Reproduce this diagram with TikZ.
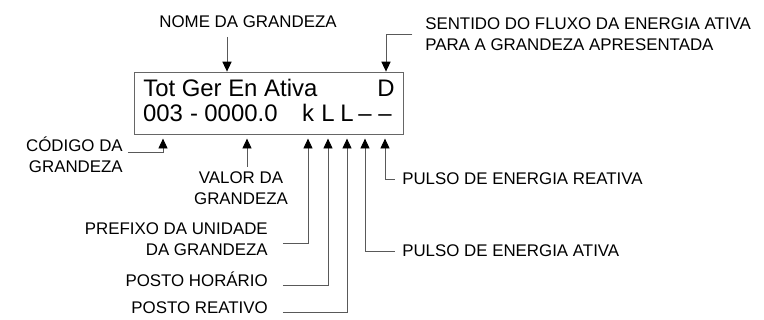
\documentclass[tikz,border=0pt]{standalone}
\usepackage{fontspec}
\setmainfont{Liberation Sans}
\usetikzlibrary{arrows.meta, positioning}
\tikzstyle{visor} = [rectangle, draw=black!60, line width=0.6pt, minimum width=6.725cm, minimum height=1.55cm, inner sep=0pt]
\tikzstyle{lcd} = [inner sep=0pt, font=\fontsize{17}{20}\selectfont]
\tikzstyle{rotulo} = [inner sep=0pt, font=\fontsize{12}{15}\selectfont]
\tikzstyle{seta} = [draw=black!65, line width=0.6pt, -{Triangle[length=7pt,width=6.5pt,color=black]}]
\tikzstyle{ligacao} = [seta, shorten >=3pt]

\begin{document}
\begin{tikzpicture}[x=0.025cm, y=-0.025cm]
  \useasboundingbox (0,0) rectangle (764,320);

  % visor
  \node[visor] (visor) at (268.5,103) {};
  \node[lcd, anchor=base west] (nome) at (143,97) {Tot Ger En Ativa};
  \node[lcd, anchor=base] (sentido) at (386,97) {D};
  \node[lcd, anchor=base] (codigo) at (163,122) {003};
  \node[lcd, anchor=base] (hifen) at (194,122) {-};
  \node[lcd, anchor=base] (valor) at (241,122) {0000.0};
  \node[lcd, anchor=base] (prefixo) at (308,122) {k};
  \node[lcd, anchor=base] (postoh) at (328,122) {L};
  \node[lcd, anchor=base] (postor) at (347,122) {L};
  \node[lcd, anchor=base] (pulsoa) at (365,122) {--};
  \node[lcd, anchor=base] (pulsor) at (385,122) {--};

  % rotulos (base = ultima linha)
  \node[rotulo, anchor=base] (lnome) at (248,28) {NOME DA GRANDEZA};
  \node[rotulo, anchor=base west, align=left] (lsentido) at (425,51) {SENTIDO DO FLUXO DA ENERGIA ATIVA\\PARA A GRANDEZA APRESENTADA};
  \node[rotulo, anchor=base east, align=right] (lcodigo) at (123,173) {CÓDIGO DA\\GRANDEZA};
  \node[rotulo, anchor=base, align=center] (lvalor) at (241,205) {VALOR DA\\GRANDEZA};
  \node[rotulo, anchor=base east, align=right] (lprefixo) at (268,256) {PREFIXO DA UNIDADE\\DA GRANDEZA};
  \node[rotulo, anchor=base east] (lpostoh) at (268,287) {POSTO HORÁRIO};
  \node[rotulo, anchor=base east] (lpostor) at (268,314) {POSTO REATIVO};
  \node[rotulo, anchor=base west] (lpulsor) at (402,185) {PULSO DE ENERGIA REATIVA};
  \node[rotulo, anchor=base west] (lpulsoa) at (402,257) {PULSO DE ENERGIA ATIVA};

  \coordinate (pnome) at (227,37);
  \coordinate (pvalor) at (247,167);

  \draw[seta] (pnome) -- (pnome |- visor.north);
  \draw[seta] ([xshift=-9pt]lsentido.west) -| (sentido |- visor.north);
  \draw[ligacao] ([xshift=3.5pt,yshift=2pt]lcodigo.east) -| (codigo |- visor.south);
  \draw[ligacao] (pvalor) -- (pvalor |- visor.south);
  \draw[ligacao] ([xshift=10.5pt,yshift=-3pt]lprefixo.east) -| (prefixo |- visor.south);
  \draw[ligacao] ([xshift=10.5pt,yshift=1pt]lpostoh.base east) -| (postoh |- visor.south);
  \draw[ligacao] ([xshift=10.5pt,yshift=1pt]lpostor.base east) -| (postor |- visor.south);
  \draw[ligacao] ([xshift=-5pt]lpulsoa.west) -| (pulsoa |- visor.south);
  \draw[ligacao] ([xshift=-5pt]lpulsor.west) -| (pulsor |- visor.south);

\end{tikzpicture}
\end{document}
